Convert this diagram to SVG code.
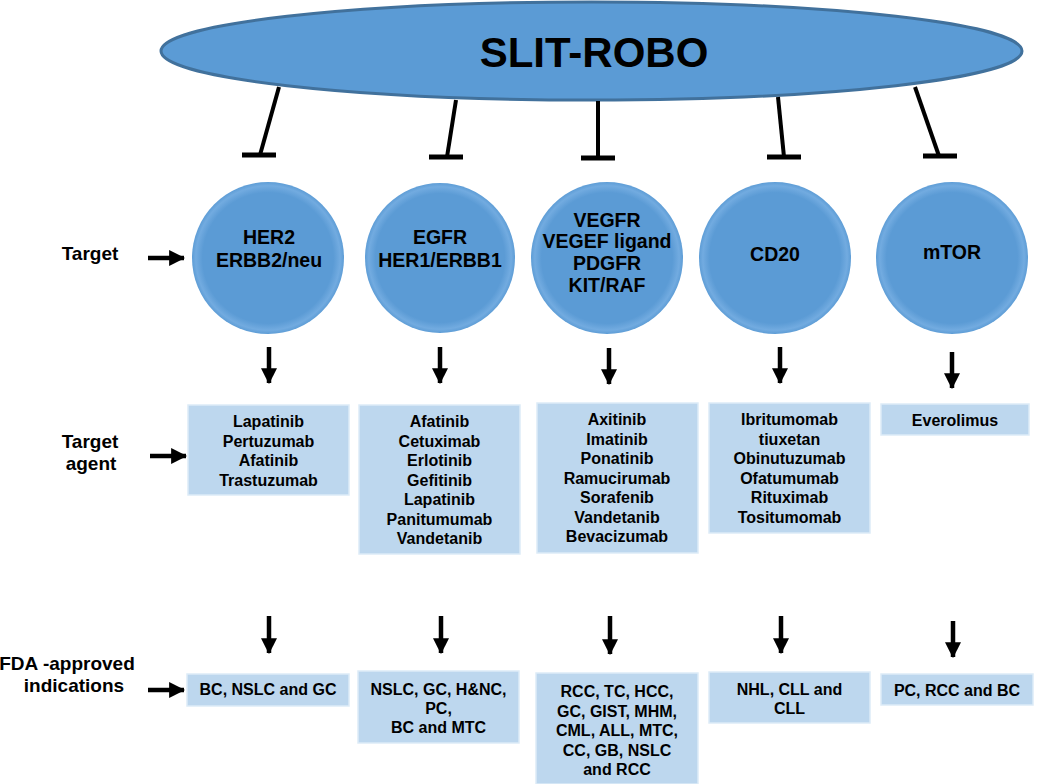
<svg xmlns="http://www.w3.org/2000/svg" width="1050" height="784" viewBox="0 0 1050 784">
<defs>
<radialGradient id="cg" cx="50%" cy="50%" r="50%">
<stop offset="0" stop-color="#5B9BD5"/>
<stop offset="0.86" stop-color="#5B9BD5"/>
<stop offset="0.95" stop-color="#72ABE0"/>
<stop offset="1" stop-color="#5E9DD6"/>
</radialGradient>
<marker id="ah" markerUnits="userSpaceOnUse" markerWidth="16" markerHeight="16" refX="13" refY="7" orient="auto" viewBox="0 0 14 14">
<path d="M0,0 L14,7 L0,14 Z" fill="#000"/>
</marker>
</defs>
<style>
.t{font-family:"Liberation Sans",Arial,sans-serif;font-weight:bold;fill:#000;text-anchor:middle}
.lbl{font-size:19px}
.ct{font-size:19.5px}
.bt{font-size:16px}
.box{fill:#BDD7EE;stroke:#DDEBF7;stroke-width:1.5}
.circ{fill:url(#cg)}
.inh{stroke:#000;stroke-width:4;fill:none}
.bar{stroke:#000;stroke-width:5;fill:none}
.arr{stroke:#000;stroke-width:4.5;fill:none;marker-end:url(#ah)}
</style>
<rect width="1050" height="784" fill="#fff"/>

<g id="slit-robo">
<ellipse cx="591.5" cy="51" rx="430.5" ry="49" fill="#5B9BD5" stroke="#41719C" stroke-width="3"/>
<text class="t" x="594" y="67" font-size="42">SLIT-ROBO</text>
</g>

<g id="labels">
<text class="t lbl" x="90" y="260">Target</text>
<text class="t lbl" x="90" y="448">Target</text>
<text class="t lbl" x="91" y="470">agent</text>
<text class="t lbl" x="67" y="670">FDA -approved</text>
<text class="t lbl" x="74" y="692">indications</text>
</g>

<g id="her2">
<circle class="circ" cx="268" cy="258" r="76"/>
<text class="t ct" x="269" y="244">HER2</text>
<text class="t ct" x="269" y="267">ERBB2/neu</text>
</g>
<g id="egfr">
<circle class="circ" cx="440" cy="258" r="75"/>
<text class="t ct" x="440" y="244">EGFR</text>
<text class="t ct" x="440" y="267">HER1/ERBB1</text>
</g>
<g id="vegfr">
<circle class="circ" cx="607" cy="258" r="76"/>
<text class="t ct" x="607" y="227">VEGFR</text>
<text class="t ct" x="607" y="248">VEGEF ligand</text>
<text class="t ct" x="607" y="270">PDGFR</text>
<text class="t ct" x="607" y="292">KIT/RAF</text>
</g>
<g id="cd20">
<circle class="circ" cx="775" cy="258" r="76"/>
<text class="t ct" x="775" y="261">CD20</text>
</g>
<g id="mtor">
<circle class="circ" cx="952" cy="258" r="76"/>
<text class="t ct" x="952" y="259">mTOR</text>
</g>

<g id="agent-her2">
<rect class="box" x="188" y="405" width="161" height="90"/>
<text class="t bt" x="268.5" y="427">Lapatinib</text>
<text class="t bt" x="268.5" y="446.5">Pertuzumab</text>
<text class="t bt" x="268.5" y="466">Afatinib</text>
<text class="t bt" x="268.5" y="485.5">Trastuzumab</text>
</g>
<g id="agent-egfr">
<rect class="box" x="359" y="405" width="161" height="149"/>
<text class="t bt" x="439.5" y="427">Afatinib</text>
<text class="t bt" x="439.5" y="446.5">Cetuximab</text>
<text class="t bt" x="439.5" y="466">Erlotinib</text>
<text class="t bt" x="439.5" y="485.5">Gefitinib</text>
<text class="t bt" x="439.5" y="505">Lapatinib</text>
<text class="t bt" x="439.5" y="524.5">Panitumumab</text>
<text class="t bt" x="439.5" y="544">Vandetanib</text>
</g>
<g id="agent-vegfr">
<rect class="box" x="537" y="403" width="161" height="150"/>
<text class="t bt" x="617" y="425">Axitinib</text>
<text class="t bt" x="617" y="444.5">Imatinib</text>
<text class="t bt" x="617" y="464">Ponatinib</text>
<text class="t bt" x="617" y="483.5">Ramucirumab</text>
<text class="t bt" x="617" y="503">Sorafenib</text>
<text class="t bt" x="617" y="522.5">Vandetanib</text>
<text class="t bt" x="617" y="542">Bevacizumab</text>
</g>
<g id="agent-cd20">
<rect class="box" x="709" y="403" width="161" height="130"/>
<text class="t bt" x="789.5" y="425">Ibritumomab</text>
<text class="t bt" x="789.5" y="444.5">tiuxetan</text>
<text class="t bt" x="789.5" y="464">Obinutuzumab</text>
<text class="t bt" x="789.5" y="483.5">Ofatumumab</text>
<text class="t bt" x="789.5" y="503">Rituximab</text>
<text class="t bt" x="789.5" y="522.5">Tositumomab</text>
</g>
<g id="agent-mtor">
<rect class="box" x="881" y="404" width="148" height="31"/>
<text class="t bt" x="955" y="426">Everolimus</text>
</g>

<g id="ind-her2">
<rect class="box" x="187" y="674" width="162" height="32"/>
<text class="t bt" x="268" y="695">BC, NSLC and GC</text>
</g>
<g id="ind-egfr">
<rect class="box" x="358" y="671" width="161" height="72"/>
<text class="t bt" x="438.5" y="695">NSLC, GC, H&amp;NC,</text>
<text class="t bt" x="438.5" y="714">PC,</text>
<text class="t bt" x="438.5" y="733">BC and MTC</text>
</g>
<g id="ind-vegfr">
<rect class="box" x="536" y="673" width="162" height="111"/>
<text class="t bt" x="617" y="697">RCC, TC, HCC,</text>
<text class="t bt" x="617" y="716.5">GC, GIST, MHM,</text>
<text class="t bt" x="617" y="736">CML, ALL, MTC,</text>
<text class="t bt" x="617" y="755.5">CC, GB, NSLC</text>
<text class="t bt" x="617" y="775">and RCC</text>
</g>
<g id="ind-cd20">
<rect class="box" x="709" y="672" width="161" height="51"/>
<text class="t bt" x="789.5" y="695">NHL, CLL and</text>
<text class="t bt" x="789.5" y="714">CLL</text>
</g>
<g id="ind-mtor">
<rect class="box" x="881" y="674" width="152" height="31"/>
<text class="t bt" x="957" y="696">PC, RCC and BC</text>
</g>

<g id="connectors">
<line class="inh" x1="279" y1="87" x2="260" y2="155"/>
<line class="bar" x1="242" y1="155" x2="276" y2="155"/>
<line class="inh" x1="456" y1="100" x2="447" y2="157"/>
<line class="bar" x1="429" y1="157" x2="463" y2="157"/>
<line class="inh" x1="598" y1="101" x2="598" y2="158"/>
<line class="bar" x1="581" y1="158" x2="615" y2="158"/>
<line class="inh" x1="778" y1="97" x2="784" y2="157"/>
<line class="bar" x1="767" y1="157" x2="801" y2="157"/>
<line class="inh" x1="915" y1="87" x2="939" y2="156"/>
<line class="bar" x1="923" y1="156" x2="957" y2="156"/>

<line class="arr" x1="148" y1="258" x2="184" y2="258"/>
<line class="arr" x1="150" y1="456" x2="186" y2="456"/>
<line class="arr" x1="148" y1="690" x2="184" y2="690"/>

<line class="arr" x1="269" y1="347" x2="269" y2="383"/>
<line class="arr" x1="440" y1="347" x2="440" y2="383"/>
<line class="arr" x1="609" y1="348" x2="609" y2="384"/>
<line class="arr" x1="780" y1="347" x2="780" y2="383"/>
<line class="arr" x1="952" y1="352" x2="952" y2="388"/>

<line class="arr" x1="269" y1="616" x2="269" y2="653"/>
<line class="arr" x1="441" y1="616" x2="441" y2="653"/>
<line class="arr" x1="610" y1="616" x2="610" y2="654"/>
<line class="arr" x1="781" y1="616" x2="781" y2="653"/>
<line class="arr" x1="953" y1="621" x2="953" y2="657"/>
</g>
</svg>
